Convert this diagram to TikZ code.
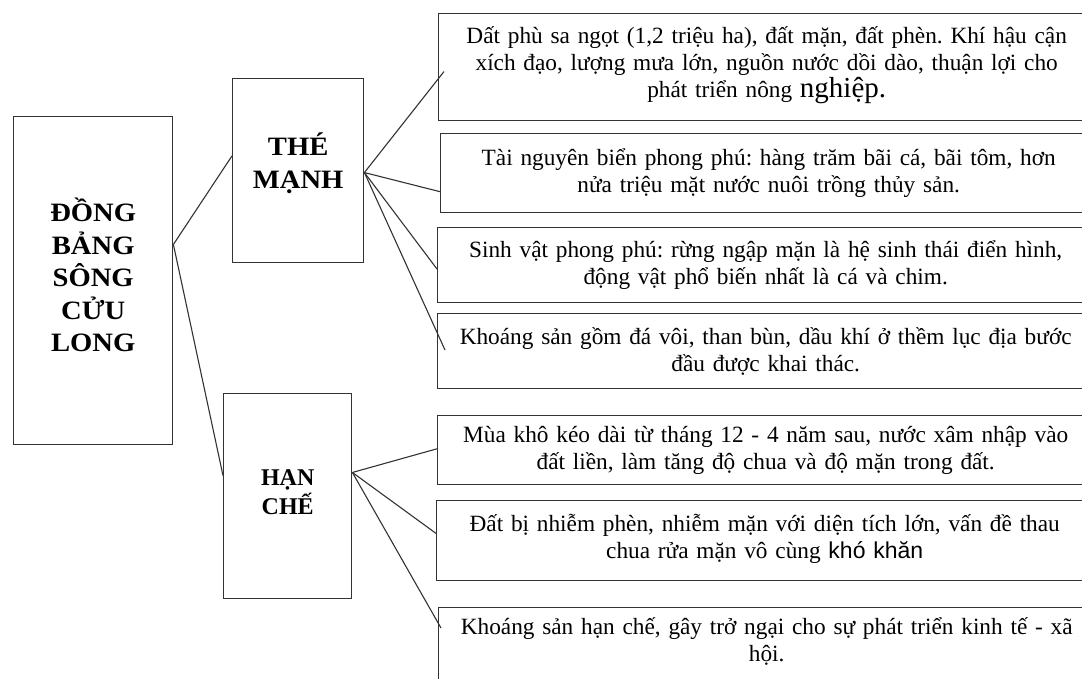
\documentclass[tikz,border=0pt]{standalone}
\usepackage{fontspec}
\setmainfont{Liberation Serif}
\newfontfamily\headfont[FakeStretch=1.08]{Liberation Serif}
\newfontfamily\wordsans{Liberation Sans}
\usetikzlibrary{calc}
\definecolor{boxc}{HTML}{333333}
\definecolor{linec}{HTML}{333333}
\tikzset{
  headbox/.style={draw=boxc, line width=1.4pt, rectangle, inner sep=0pt, anchor=north west, align=center,
    font=\headfont\bfseries\fontsize{26.5}{32.5}\selectfont},
  hcbox/.style={headbox, font=\bfseries\fontsize{24}{29}\selectfont},
  infobox/.style={draw=boxc, line width=1.4pt, rectangle, anchor=north west, text width=650pt,
    inner xsep=3pt, inner ysep=0pt, align=center, font=\frenchspacing\fontsize{23.3}{27}\selectfont},
  link/.style={draw=linec, line width=1.1pt},
}
\begin{document}
\frenchspacing
\begin{tikzpicture}[x=1pt,y=-1pt]
\path[use as bounding box] (0,0) rectangle (1082,679);
\fill[white] (0,0) rectangle (1082,679);
\clip (0,0) rectangle (1082,679);

% main boxes
\node[headbox, minimum width=159pt, minimum height=328pt] (dbscl) at (13,116) {ĐỒNG\\BẢNG\\SÔNG\\CỬU\\LONG\rule[-12pt]{0pt}{0pt}};
\node[headbox, minimum width=131pt, minimum height=184pt] (tm) at (232,78) {THÉ\\MẠNH\rule[-20pt]{0pt}{0pt}};
\node[hcbox, minimum width=128pt, minimum height=205pt] (hc) at (223,393) {HẠN\\CHẾ\rule[-8pt]{0pt}{0pt}};

% detail boxes
\node[infobox, minimum height=107pt] (b1) at (438,13) {Dất phù sa ngọt (1,2 triệu ha), đất mặn, đất phèn. Khí hậu cận\\ xích đạo, lượng mưa lớn, nguồn nước dồi dào, thuận lợi cho\\ phát triển nông {\fontsize{29}{27}\selectfont nghiệp.}\rule[-10pt]{0pt}{0pt}};
\node[infobox, minimum height=79pt] (b2) at (440,133) {Tài nguyên biển phong phú: hàng trăm bãi cá, bãi tôm, hơn\\ nửa triệu mặt nước nuôi trồng thủy sản.};
\node[infobox, minimum height=75pt] (b3) at (437,227) {Sinh vật phong phú: rừng ngập mặn là hệ sinh thái điển hình,\\ động vật phổ biến nhất là cá và chim.};
\node[infobox, minimum height=75pt] (b4) at (437,313) {Khoáng sản gồm đá vôi, than bùn, dầu khí ở thềm lục địa bước\\ đầu được khai thác.};
\node[infobox, minimum height=69pt] (b5) at (437,415) {Mùa khô kéo dài từ tháng 12 - 4 năm sau, nước xâm nhập vào\\ đất liền, làm tăng độ chua và độ mặn trong đất.};
\node[infobox, minimum height=80pt] (b6) at (436,500) {Đất bị nhiễm phèn, nhiễm mặn với diện tích lớn, vấn đề thau\\ chua rửa mặn vô cùng {\wordsans\fontsize{23}{27}\selectfont khó khăn}\rule[-8pt]{0pt}{0pt}};
\node[infobox, inner ysep=10pt] (b7) at (438,607) {Khoáng sản hạn chế, gây trở ngại cho sự phát triển kinh tế - xã\\ hội.\rule[-60pt]{0pt}{60pt}};

% connection points
\coordinate (dbR) at ($(dbscl.north east)!0.39!(dbscl.south east)$);
\coordinate (tmL) at ($(tm.north west)!0.42!(tm.south west)$);
\coordinate (tmR) at ($(tm.north east)!0.51!(tm.south east)$);
\coordinate (hcL) at ($(hc.north west)!0.40!(hc.south west)$);
\coordinate (hcR) at ($(hc.north east)!0.385!(hc.south east)$);

\draw[link] (dbR) -- (tmL);
\draw[link] (dbR) -- (hcL);

\draw[link] (tmR) -- ($(b1.north west)!0.54!(b1.south west)+(6,0)$);
\draw[link] (tmR) -- ($(b2.north west)!0.73!(b2.south west)$);
\draw[link] (tmR) -- ($(b3.north west)!0.55!(b3.south west)$);
\draw[link] (tmR) -- ($(b4.north west)+(8,37)$);

\draw[link] (hcR) -- ($(b5.north west)!0.48!(b5.south west)$);
\draw[link] (hcR) -- ($(b6.north west)!0.41!(b6.south west)$);
\draw[link] (hcR) -- ($(b7.north west)+(3,21)$);
\end{tikzpicture}
\end{document}
